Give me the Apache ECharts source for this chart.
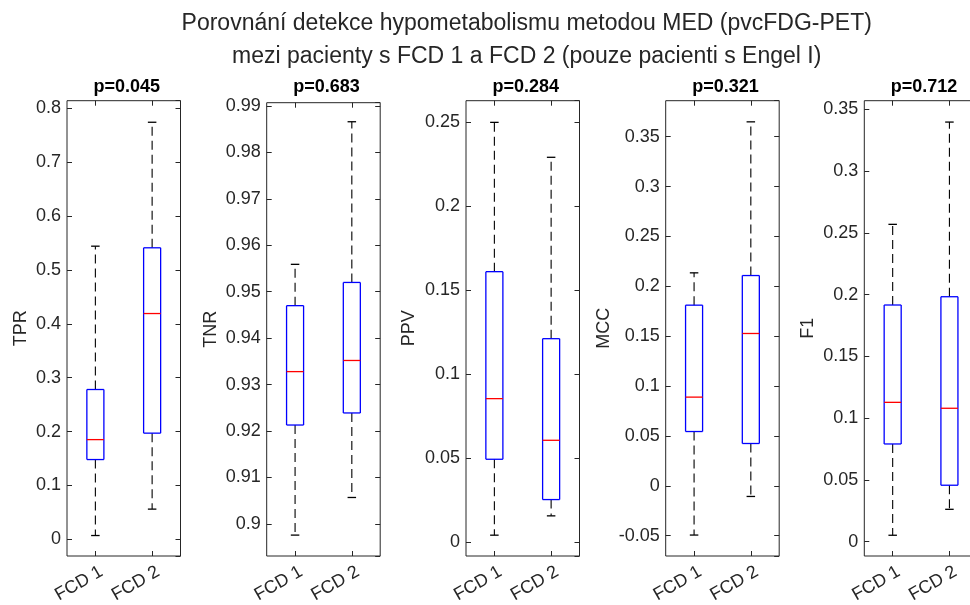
<!DOCTYPE html>
<html><head><meta charset="utf-8">
<script src="https://cdn.jsdelivr.net/npm/echarts@6/dist/echarts.min.js"></script>
<style>html,body{margin:0;padding:0;background:#fff}#c{width:970px;height:605px}</style>
</head><body><div id="c"></div>
<script>
const categories = ['FCD 1', 'FCD 2'];
const metrics = ['TPR', 'TNR', 'PPV', 'MCC', 'F1'];
const pValues = ['p=0.045', 'p=0.683', 'p=0.284', 'p=0.321', 'p=0.712'];
const titleLine1 = 'Porovnání detekce hypometabolismu metodou MED (pvcFDG-PET)';
const titleLine2 = 'mezi pacienty s FCD 1 a FCD 2 (pouze pacienti s Engel I)';
// each: [lower whisker, Q1, median, Q3, upper whisker]
const tprFCD1 = [0.007, 0.148, 0.185, 0.278, 0.544];
const tprFCD2 = [0.056, 0.197, 0.419, 0.541, 0.774];
const tnrFCD1 = [0.8976, 0.9213, 0.9328, 0.9470, 0.9559];
const tnrFCD2 = [0.9057, 0.9239, 0.9352, 0.9520, 0.9866];
const ppvFCD1 = [0.0042, 0.0494, 0.0855, 0.1611, 0.250];
const ppvFCD2 = [0.0157, 0.0254, 0.0607, 0.1212, 0.2292];
const mccFCD1 = [-0.0494, 0.0544, 0.0889, 0.1811, 0.2135];
const mccFCD2 = [-0.0107, 0.0424, 0.1527, 0.2108, 0.3649];
const f1FCD1 = [0.0052, 0.0791, 0.1128, 0.1916, 0.2569];
const f1FCD2 = [0.0262, 0.0457, 0.1080, 0.1983, 0.3397];
const yMin = [-0.031, 0.8931, -0.0082, -0.0704, -0.0116];
const yMax = [0.814, 0.9907, 0.2629, 0.3861, 0.357];
const yStep = [0.1, 0.01, 0.05, 0.05, 0.05];

const groups = [[tprFCD1, tprFCD2], [tnrFCD1, tnrFCD2], [ppvFCD1, ppvFCD2], [mccFCD1, mccFCD2], [f1FCD1, f1FCD2]];
const FONT = '"Liberation Sans", Arial, Helvetica, sans-serif';
const TXT = '#262626';
const gridLeft = [67, 266.7, 466, 665.7, 864.3];
const gridTop = [100.7, 102.7, 100.7, 100.7, 100.7];
const gridW = 113.5, gridBottomY = 556;
const nameGaps = [36.5, 46.7, 47.5, 52.2, 47.5];

function mkLine(x1, y1, x2, y2, color, dashed) {
  const st = { stroke: color, lineWidth: 1.3, fill: null };
  if (dashed) { st.lineDash = [9, 5]; st.lineWidth = 1.1; }
  return { type: 'line', silent: true, shape: { x1: x1, y1: y1, x2: x2, y2: y2 }, style: st };
}
function renderBox(params, api) {
  const idx = api.value(0);
  const lo = api.coord([idx, api.value(1)]);
  const q1 = api.coord([idx, api.value(2)]);
  const med = api.coord([idx, api.value(3)]);
  const q3 = api.coord([idx, api.value(4)]);
  const hi = api.coord([idx, api.value(5)]);
  const band = api.size([1, 0])[0];
  const hw = band * 0.15;
  const cw = band * 0.075;
  const x = lo[0];
  const xl = x - hw, xr = x + hw;
  return {
    type: 'group',
    children: [
      mkLine(x, q3[1], x, hi[1], '#000000', true),
      mkLine(x, q1[1], x, lo[1], '#000000', true),
      mkLine(x - cw, hi[1], x + cw, hi[1], '#000000', false),
      mkLine(x - cw, lo[1], x + cw, lo[1], '#000000', false),
      mkLine(xl, q3[1], xr, q3[1], '#0000ff', false),
      mkLine(xl, q1[1], xr, q1[1], '#0000ff', false),
      mkLine(xl, q3[1], xl, q1[1], '#0000ff', false),
      mkLine(xr, q3[1], xr, q1[1], '#0000ff', false),
      mkLine(xl, med[1], xr, med[1], '#ff0000', false)
    ]
  };
}

const grids = [], xAxes = [], yAxes = [], series = [];
const titles = [
  { text: titleLine1, left: 521.7, top: 7, textAlign: 'center', textStyle: { fontFamily: FONT, fontSize: 23, fontWeight: 'normal', color: TXT } },
  { text: titleLine2, left: 521.7, top: 40, textAlign: 'center', textStyle: { fontFamily: FONT, fontSize: 23, fontWeight: 'normal', color: TXT } }
];
for (let i = 0; i < 5; i++) {
  grids.push({ left: gridLeft[i], top: gridTop[i], width: gridW, height: gridBottomY - gridTop[i], show: true, borderColor: TXT, borderWidth: 1, backgroundColor: 'rgba(0,0,0,0)', containLabel: false, outerBoundsMode: 'none' });
  titles.push({ text: pValues[i], left: gridLeft[i] + gridW / 2 - 2, top: 73, textAlign: 'center', textStyle: { fontFamily: FONT, fontSize: 18, fontWeight: 'bold', color: '#000' } });
  const tickStyle = { show: true, inside: true, length: 5, alignWithLabel: true, lineStyle: { color: TXT, width: 1 } };
  xAxes.push({ gridIndex: i, type: 'category', data: categories, position: 'bottom', boundaryGap: true,
    axisLine: { show: false, onZero: false }, axisTick: tickStyle, splitLine: { show: false },
    axisLabel: { rotate: 30, margin: 18, fontSize: 18, fontFamily: FONT, color: TXT, interval: 0, padding: [0, -7, 0, 0] } });
  xAxes.push({ gridIndex: i, type: 'category', data: categories, position: 'top', boundaryGap: true,
    axisLine: { show: false, onZero: false }, axisTick: tickStyle, splitLine: { show: false }, axisLabel: { show: false } });
  const yBase = { gridIndex: i, type: 'value', min: yMin[i], max: yMax[i], minInterval: yStep[i], maxInterval: yStep[i], splitNumber: 10,
    axisLine: { show: false, onZero: false }, splitLine: { show: false },
    axisTick: { show: true, inside: true, length: 5, lineStyle: { color: TXT, width: 1 } } };
  yAxes.push(Object.assign({}, yBase, { position: 'left',
    name: metrics[i], nameLocation: 'middle', nameGap: nameGaps[i],
    nameTextStyle: { fontFamily: FONT, fontSize: 18, color: TXT },
    axisLabel: { showMinLabel: false, showMaxLabel: false, margin: 6, fontSize: 18, fontFamily: FONT, color: TXT } }));
  yAxes.push(Object.assign({}, yBase, { position: 'right', axisLabel: { show: false } }));
  series.push({ type: 'custom', xAxisIndex: 2 * i, yAxisIndex: 2 * i, renderItem: renderBox, silent: true,
    emphasis: { disabled: true },
    encode: { x: 0, y: [1, 2, 3, 4, 5] },
    data: groups[i].map((g, k) => [k].concat(g)) });
}

const chart = echarts.init(document.getElementById('c'), null, { renderer: 'canvas' });
chart.setOption({ animation: false, backgroundColor: '#fff', title: titles, grid: grids, xAxis: xAxes, yAxis: yAxes, series: series });
</script></body></html>
